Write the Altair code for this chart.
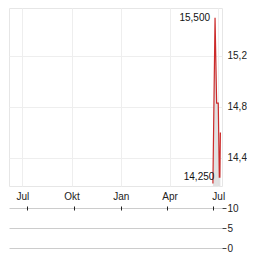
import altair as alt
import pandas as pd

# price series
dates = ["2024-06-21", "2024-06-25", "2024-06-28", "2024-07-01", "2024-07-03", "2024-07-04", "2024-07-05"]
prices = [14.20, 15.50, 14.83, 14.83, 14.25, 14.25, 14.60]

# high / low annotations
label_dates = ["2024-06-25", "2024-07-03"]
label_values = [15.50, 14.25]

# volume (all zero)
volumes = [0, 0, 0, 0, 0, 0, 0]

x_ticks = ["2023-07-01", "2023-10-01", "2024-01-01", "2024-04-01", "2024-07-01"]
x_domain = ["2023-06-06", "2024-07-08"]
y_domain = [14.18, 15.576]
y_ticks = [14.4, 14.8, 15.2]
vol_ticks = [0, 5, 10]

df = pd.DataFrame({"date": pd.to_datetime(dates), "price": prices, "volume": volumes})
lab = pd.DataFrame({"date": pd.to_datetime(label_dates), "v": label_values})

FONT = "Liberation Sans"
W = 213

month_expr = "['Jan','Feb','Mär','Apr','Mai','Jun','Jul','Aug','Sep','Okt','Nov','Dez'][month(datum.value)]"

xscale = alt.Scale(domain=[pd.Timestamp(d).isoformat() for d in x_domain])
xaxis = alt.Axis(values=[pd.Timestamp(d).isoformat() for d in x_ticks], labelExpr=month_expr,
                 ticks=False, domain=False, grid=True, gridColor="#eeeeee", labelPadding=5,
                 labelFontSize=10, labelColor="#222", labelFont=FONT, title=None)
yscale = alt.Scale(domain=y_domain, nice=False, zero=False)
yaxis = alt.Axis(orient="right", values=y_ticks, labelExpr="replace(format(datum.value, '.1f'), '.', ',')",
                 ticks=False, domain=False, grid=True, gridColor="#eeeeee", labelPadding=5,
                 labelFontSize=10, labelColor="#222", labelFont=FONT, title=None)

base = alt.Chart(df)
area = base.mark_area(color="#dcdcdc", opacity=0.85, clip=True).encode(
    x=alt.X("date:T", scale=xscale, axis=xaxis),
    y=alt.Y("price:Q", scale=yscale, axis=yaxis),
    y2=alt.Y2(datum=y_domain[0]),
)
line = base.mark_line(color="#cc2a2a", strokeWidth=1.2).encode(
    x="date:T", y="price:Q"
)
texts = alt.Chart(lab).transform_calculate(
    t="replace(format(datum.v, '.3f'), '.', ',')"
).mark_text(align="right", baseline="middle", dx=-5, fontSize=10, font=FONT, color="#111").encode(
    x="date:T", y="v:Q", text="t:N"
)
main = alt.layer(area, line, texts).properties(
    width=W, height=178, view=alt.ViewBackground(stroke="#e6e6e6", strokeOpacity=1)
)

vol = base.mark_bar(color="#cc2a2a").encode(
    x=alt.X("date:T", scale=xscale,
            axis=alt.Axis(values=[pd.Timestamp(d).isoformat() for d in x_ticks], labels=False,
                          ticks=True, tickSize=4, tickColor="#222", domain=False, grid=False,
                          offset=-42, title=None)),
    y=alt.Y("volume:Q", scale=alt.Scale(domain=[0, 10], nice=False),
            axis=alt.Axis(orient="right", values=vol_ticks, tickSize=4, tickColor="#444",
                          domain=False, grid=True, gridColor="#cccccc", labelPadding=1,
                          labelFontSize=10, labelColor="#222", labelFont=FONT, title=None)),
).properties(width=W, height=40, view=alt.ViewBackground(strokeOpacity=0))

chart = alt.vconcat(main, vol, spacing=22, bounds="flush").properties(
    padding={"left": 8, "top": 7, "right": 0, "bottom": 0}
).configure_concat(spacing=22)

chart.save("out.html", embed_options={"renderer": "svg", "actions": False})
